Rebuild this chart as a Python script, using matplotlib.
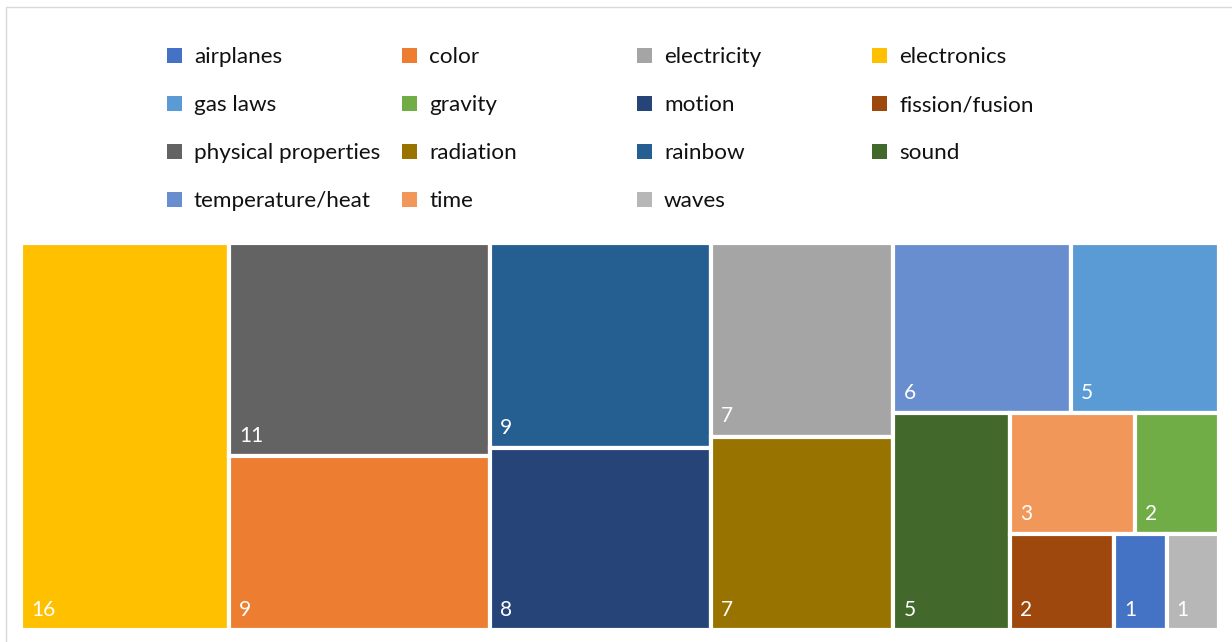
import matplotlib
matplotlib.use("Agg")
import matplotlib.pyplot as plt
from matplotlib.patches import Rectangle

# categories in legend order
categories = ['airplanes', 'color', 'electricity', 'electronics',
              'gas laws', 'gravity', 'motion', 'fission/fusion',
              'physical properties', 'radiation', 'rainbow', 'sound',
              'temperature/heat', 'time', 'waves']
values = [1, 9, 7, 16, 5, 2, 8, 2, 11, 7, 9, 5, 6, 3, 1]
colors = ['#4472C4', '#ED7D31', '#A5A5A5', '#FFC000',
          '#5B9BD5', '#70AD47', '#264478', '#9E480E',
          '#636363', '#997300', '#255E91', '#43682B',
          '#698ED0', '#F1975A', '#B7B7B7']

plt.rcParams['font.family'] = ['Lato', 'DejaVu Sans']


def layout_row(sizes, x, y, dx, dy):
    # one column along the height
    width = sum(sizes) / dy
    rects = []
    for s in sizes:
        rects.append((x, y, width, s / width))
        y += s / width
    return rects


def layout_col(sizes, x, y, dx, dy):
    # one row along the width
    height = sum(sizes) / dx
    rects = []
    for s in sizes:
        rects.append((x, y, s / height, height))
        x += s / height
    return rects


def layout(sizes, x, y, dx, dy):
    if dx >= dy:
        return layout_row(sizes, x, y, dx, dy)
    return layout_col(sizes, x, y, dx, dy)


def leftover(sizes, x, y, dx, dy):
    covered = sum(sizes)
    if dx >= dy:
        w = covered / dy
        return x + w, y, dx - w, dy
    h = covered / dx
    return x, y + h, dx, dy - h


def worst_ratio(sizes, x, y, dx, dy):
    return max(max(w / h, h / w) for (_, _, w, h) in layout(sizes, x, y, dx, dy))


def squarify(sizes, x, y, dx, dy):
    if len(sizes) == 0:
        return []
    if len(sizes) == 1:
        return layout(sizes, x, y, dx, dy)
    i = 1
    while i < len(sizes) and worst_ratio(sizes[:i], x, y, dx, dy) >= worst_ratio(sizes[:i + 1], x, y, dx, dy):
        i += 1
    current = sizes[:i]
    remaining = sizes[i:]
    lx, ly, ldx, ldy = leftover(current, x, y, dx, dy)
    return layout(current, x, y, dx, dy) + squarify(remaining, lx, ly, ldx, ldy)


W, H = 1198.0, 387.0
fig = plt.figure(figsize=(12.32, 6.42), dpi=100)
ax = fig.add_axes([21.0 / 1232, (642 - 630.0) / 642, W / 1232, H / 642])

order = sorted(range(len(values)), key=lambda k: -values[k])
total = float(sum(values))
sizes = [values[k] * W * H / total for k in order]
rects = squarify(sizes, 0, 0, W, H)

for k, (x, y, w, h) in zip(order, rects):
    ax.add_patch(Rectangle((x, y), w, h, facecolor=colors[k], edgecolor='white', linewidth=3))
    ax.text(x + 10, y + h - 14, str(values[k]), color='white', fontsize=15,
            ha='left', va='baseline')

ax.set_xlim(0, W)
ax.set_ylim(H, 0)
ax.axis('off')

# legend, filled row by row like Excel
for idx, name in enumerate(categories):
    row, col = divmod(idx, 4)
    mx = 167 + col * 235
    my = 55 + row * 48
    fig.patches.append(Rectangle((mx / 1232, 1 - (my + 7.5) / 642), 15 / 1232, 15 / 642,
                                 transform=fig.transFigure, facecolor=colors[idx],
                                 edgecolor='none'))
    fig.text((mx + 27) / 1232, 1 - (my + 2) / 642, name, fontsize=16.2, va='center', ha='left',
             color='#111111')

# chart border
fig.patches.append(Rectangle((5.5 / 1232, -0.1), 1.2, 1 - 6.5 / 642 + 0.1,
                             transform=fig.transFigure, facecolor='none',
                             edgecolor='#D9D9D9', linewidth=1))

fig.savefig('out.png', dpi=100)
